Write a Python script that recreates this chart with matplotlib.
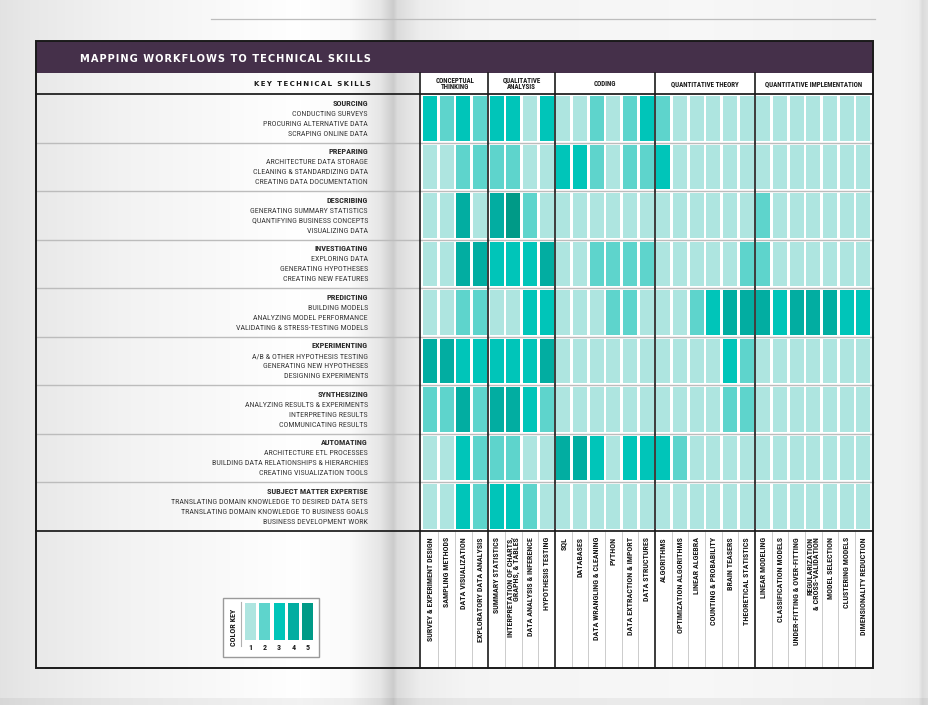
import numpy as np
import matplotlib
matplotlib.use('Agg')
import matplotlib.pyplot as plt
from matplotlib import font_manager, transforms
from matplotlib.patches import Rectangle

W, H = 929, 705

# skill groups and skills (columns)
GROUPS = ['CONCEPTUAL\nTHINKING', 'QUALITATIVE\nANALYSIS', 'CODING',
          'QUANTITATIVE THEORY', 'QUANTITATIVE IMPLEMENTATION']
GROUP_SIZES = [4, 4, 6, 6, 7]
SKILLS = ['SURVEY & EXPERIMENT DESIGN', 'SAMPLING METHODS', 'DATA VISUALIZATION',
          'EXPLORATORY DATA ANALYSIS',
          'SUMMARY STATISTICS', 'INTERPRETATION OF CHARTS,\nGRAPHS, & TABLES',
          'DATA ANALYSIS & INFERENCE', 'HYPOTHESIS TESTING',
          'SQL', 'DATABASES', 'DATA WRANGLING & CLEANING', 'PYTHON',
          'DATA EXTRACTION & IMPORT', 'DATA STRUCTURES',
          'ALGORITHMS', 'OPTIMIZATION ALGORITHMS', 'LINEAR ALGEBRA',
          'COUNTING & PROBABILITY', 'BRAIN TEASERS', 'THEORETICAL STATISTICS',
          'LINEAR MODELING', 'CLASSIFICATION MODELS', 'UNDER-FITTING & OVER-FITTING',
          'REGULARIZATION\n& CROSS-VALIDATION', 'MODEL SELECTION', 'CLUSTERING MODELS',
          'DIMENSIONALITY REDUCTION']

# workflows (rows)
WORKFLOWS = ['SOURCING', 'PREPARING', 'DESCRIBING', 'INVESTIGATING', 'PREDICTING',
             'EXPERIMENTING', 'SYNTHESIZING', 'AUTOMATING', 'SUBJECT MATTER EXPERTISE']
TASKS = [
    ['CONDUCTING SURVEYS', 'PROCURING ALTERNATIVE DATA', 'SCRAPING ONLINE DATA'],
    ['ARCHITECTURE DATA STORAGE', 'CLEANING & STANDARDIZING DATA', 'CREATING DATA DOCUMENTATION'],
    ['GENERATING SUMMARY STATISTICS', 'QUANTIFYING BUSINESS CONCEPTS', 'VISUALIZING DATA'],
    ['EXPLORING DATA', 'GENERATING HYPOTHESES', 'CREATING NEW FEATURES'],
    ['BUILDING MODELS', 'ANALYZING MODEL PERFORMANCE', 'VALIDATING & STRESS-TESTING MODELS'],
    ['A/B & OTHER HYPOTHESIS TESTING', 'GENERATING NEW HYPOTHESES', 'DESIGNING EXPERIMENTS'],
    ['ANALYZING RESULTS & EXPERIMENTS', 'INTERPRETING RESULTS', 'COMMUNICATING RESULTS'],
    ['ARCHITECTURE ETL PROCESSES', 'BUILDING DATA RELATIONSHIPS & HIERARCHIES',
     'CREATING VISUALIZATION TOOLS'],
    ['TRANSLATING DOMAIN KNOWLEDGE TO DESIRED DATA SETS',
     'TRANSLATING DOMAIN KNOWLEDGE TO BUSINESS GOALS', 'BUSINESS DEVELOPMENT WORK'],
]

# importance level 1..5 for each skill, per workflow
sourcing      = [3, 2, 3, 2, 3, 3, 1, 3, 1, 1, 2, 1, 2, 3, 2, 1, 1, 1, 1, 1, 1, 1, 1, 1, 1, 1, 1]
preparing     = [1, 1, 2, 2, 2, 2, 1, 1, 3, 3, 2, 1, 2, 2, 3, 1, 1, 1, 1, 1, 1, 1, 1, 1, 1, 1, 1]
describing    = [1, 1, 4, 1, 4, 5, 2, 1, 1, 1, 1, 1, 1, 1, 1, 1, 1, 1, 1, 1, 2, 1, 1, 1, 1, 1, 1]
investigating = [1, 1, 4, 4, 3, 3, 3, 4, 1, 1, 2, 2, 2, 2, 1, 1, 1, 1, 1, 2, 2, 1, 1, 1, 1, 1, 1]
predicting    = [1, 1, 2, 2, 1, 1, 3, 3, 1, 1, 1, 2, 2, 1, 1, 1, 2, 3, 4, 4, 4, 3, 4, 4, 4, 3, 3]
experimenting = [4, 4, 3, 3, 3, 3, 3, 4, 1, 1, 1, 1, 1, 1, 1, 1, 1, 1, 3, 2, 1, 1, 1, 1, 1, 1, 1]
synthesizing  = [2, 2, 4, 2, 4, 4, 3, 2, 1, 1, 1, 1, 1, 1, 1, 1, 1, 1, 2, 2, 1, 1, 1, 1, 1, 1, 1]
automating    = [1, 1, 3, 2, 2, 2, 1, 1, 4, 4, 3, 1, 3, 3, 3, 2, 1, 1, 1, 1, 1, 1, 1, 1, 1, 1, 1]
expertise     = [1, 1, 3, 2, 3, 3, 2, 1, 1, 1, 1, 1, 1, 1, 1, 1, 1, 1, 1, 1, 1, 1, 1, 1, 1, 1, 1]
ROWS = [sourcing, preparing, describing, investigating, predicting,
        experimenting, synthesizing, automating, expertise]

LEVELS = [1, 2, 3, 4, 5]
PALETTE = ['#aee5e0', '#5ed4cc', '#00c5b9', '#02ada1', '#009a87']

# fonts: a condensed family if one is around
names = {f.name for f in font_manager.fontManager.ttflist}
COND = next((n for n in ['Roboto Condensed', 'Liberation Sans Narrow', 'Open Sans Condensed',
                         'Liberation Sans'] if n in names), 'DejaVu Sans')
FAM = [COND, 'DejaVu Sans']


def spaced(s, gap='\u2009'):
    return gap.join(s)


fig = plt.figure(figsize=(W / 100, H / 100), dpi=100)

# page axes in pixel units
page = fig.add_axes([0, 0, 1, 1])
page.set_xlim(0, W)
page.set_ylim(H, 0)
page.axis('off')

# book background (paper shading + spine)
xs = [0, 30, 120, 300, 350, 380, 393, 397, 420, 470, 700, 900, 918, 922, 929]
vs = [0.89, 0.91, 0.95, 1.00, 0.98, 0.90, 0.80, 0.86, 0.93, 0.96, 0.97, 0.95, 0.93, 0.86, 0.90]
shade = np.interp(np.arange(W), xs, vs)
bg = np.tile(shade, (H, 1))
bg[698:, :] *= 0.95
page.imshow(np.dstack([bg, bg, bg]), extent=(0, W, H, 0), aspect='auto', zorder=0,
            interpolation='bilinear')
page.plot([211, 875], [19, 19], color='#bdbdbd', lw=0.9, zorder=1)

# white grid backdrop and title bar
page.add_patch(Rectangle((419, 73), 454, 595, facecolor='white', edgecolor='none', zorder=1))
page.add_patch(Rectangle((36, 41), 837, 32, facecolor='#45304a', edgecolor='none', zorder=2))
page.text(80, 59.5, spaced('MAPPING WORKFLOWS TO TECHNICAL SKILLS', '\u200a'), color='white',
          fontsize=7.1, fontweight='bold', family=['DejaVu Sans'], ha='left', va='center', zorder=3)
page.text(371, 84, spaced('KEY TECHNICAL SKILLS'), color='#1a1a1a', fontsize=5,
          fontweight='bold', family=['DejaVu Sans'], ha='right', va='center', zorder=3)

# grid axes: columns = skills, rows = workflows
x0, x1, y0, y1 = 421.7, 871.7, 94, 530.5
grid = fig.add_axes([x0 / W, 1 - y1 / H, (x1 - x0) / W, (y1 - y0) / H])
grid.set_xlim(0, len(SKILLS))
grid.set_ylim(len(ROWS), 0)
grid.axis('off')

for i, row in enumerate(ROWS):
    for j, v in enumerate(row):
        grid.add_patch(Rectangle((j + 0.085, i + 0.045), 0.83, 0.915,
                                 facecolor=PALETTE[v - 1], edgecolor='none'))

xg = transforms.blended_transform_factory(grid.transData, page.transData)
yg = transforms.blended_transform_factory(page.transData, grid.transData)

# row separators and row labels
for i in range(1, len(ROWS)):
    page.plot([36, 873], [i, i], transform=yg, color='#bcbcbc', lw=1.0, zorder=4)
page.plot([36, 873], [len(ROWS), len(ROWS)], transform=yg, color='#222222', lw=1.3, zorder=5)
page.plot([36, 873], [94, 94], color='#222222', lw=1.3, zorder=5)

for i, (wf, tasks) in enumerate(zip(WORKFLOWS, TASKS)):
    page.text(368, i + 0.19, wf, transform=yg, ha='right', va='center', fontsize=5.95,
              fontweight='bold', color='#2a2a2a', family=FAM, zorder=5)
    for k, t in enumerate(tasks):
        page.text(368, i + 0.406 + 0.206 * k, t, transform=yg, ha='right', va='center',
                  fontsize=5.75, color='#3a3a3a', family=FAM, zorder=5)

# group boundaries, header labels, thin column lines in label strip
bounds = np.concatenate([[0], np.cumsum(GROUP_SIZES)])
for b in bounds[:-1]:
    bx = b - 0.13 if b == 0 else b
    page.plot([bx, bx], [73, 668], transform=xg, color='#1a1a1a', lw=1.2, zorder=6)
for g, name in enumerate(GROUPS):
    cx = (bounds[g] + bounds[g + 1]) / 2
    page.text(cx, 84, name, transform=xg, ha='center', va='center',
              fontsize=5.0, fontweight='bold', color='#1a1a1a', family=FAM,
              linespacing=0.8, zorder=6)
for c in range(1, len(SKILLS)):
    if c not in bounds:
        page.plot([c, c], [532, 668], transform=xg, color='#c4c4c4', lw=0.6, zorder=4)

for j, s in enumerate(SKILLS):
    page.text(j + 0.5, 537, s, transform=xg, rotation=90, ha='center', va='top',
              multialignment='right', fontsize=5.8, fontweight='bold', color='#1a1a1a',
              family=FAM, linespacing=0.85, zorder=6)

# outer frame
page.add_patch(Rectangle((36, 41), 837, 627, facecolor='none', edgecolor='#1a1a1a',
                         lw=1.4, zorder=7))

# color key
page.add_patch(Rectangle((223, 598), 96, 59, facecolor='white', edgecolor='#9a9a9a',
                         lw=1.0, zorder=6))
page.text(234, 627, 'COLOR KEY', rotation=90, ha='center', va='center', fontsize=5.8,
          fontweight='bold', color='#1a1a1a', family=FAM, zorder=7)
page.plot([241, 241], [602, 646], color='#b0b0b0', lw=0.8, zorder=7)
for k, lv in enumerate(LEVELS):
    page.add_patch(Rectangle((245 + 14.3 * k, 603), 11, 37, facecolor=PALETTE[lv - 1],
                             edgecolor='none', zorder=7))
    page.text(250.5 + 14.3 * k, 648, str(lv), ha='center', va='center', fontsize=5.8,
              fontweight='bold', color='#1a1a1a', family=FAM, zorder=7)

fig.savefig('out.png', dpi=100)
